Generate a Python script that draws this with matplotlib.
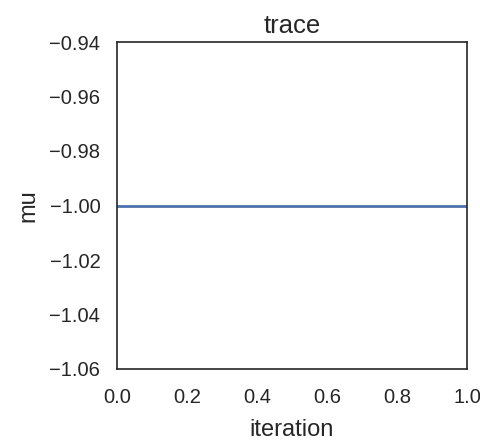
import matplotlib
matplotlib.use('Agg')
import matplotlib.pyplot as plt
import seaborn as sns

# Data: konstant spår för mu
iterations = [0, 1]
mu_trace = [-1.0, -1.0]

sns.set_style('white')
plt.rcParams['font.family'] = ['Liberation Sans', 'DejaVu Sans']

fig = plt.figure(figsize=(4.81, 4.41), dpi=100)
ax = fig.add_axes([117 / 481, 1 - 369 / 441, 350 / 481, 327 / 441])

ax.plot(iterations, mu_trace, color='#4C72B0', linewidth=2)
ax.set_xlim(0, 1)
ax.set_ylim(-1.06, -0.94)
ax.set_yticks([-1.06, -1.04, -1.02, -1.00, -0.98, -0.96, -0.94])
ax.set_xticks([0.0, 0.2, 0.4, 0.6, 0.8, 1.0])

ax.tick_params(labelsize=14.5, colors='#262626')
ax.tick_params(axis='x', pad=10)
ax.tick_params(axis='y', pad=8.5)
ax.set_title('trace', fontsize=18.5, color='#262626', pad=6.5)
ax.set_xlabel('iteration', fontsize=17, color='#262626', labelpad=9)
ax.set_ylabel('mu', fontsize=17, color='#262626', labelpad=7)

for s in ax.spines.values():
    s.set_color('#262626')
    s.set_linewidth(1.2)

plt.savefig('out.png', dpi=100)
plt.close()
